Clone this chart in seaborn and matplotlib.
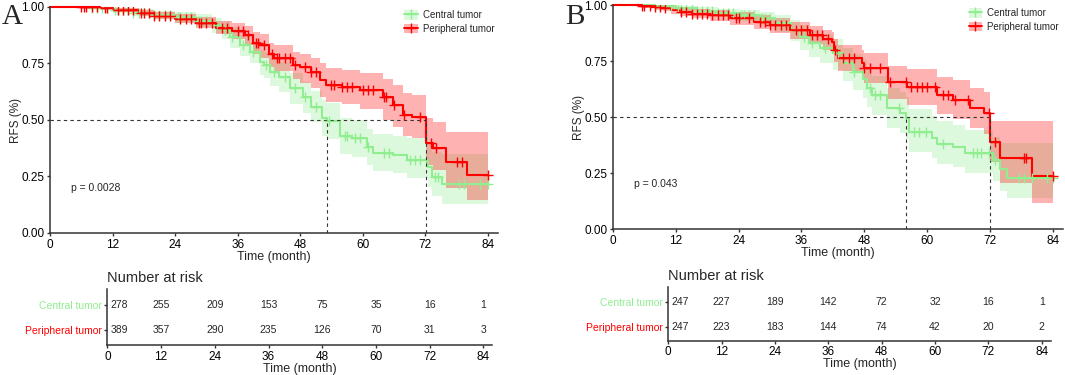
import numpy as np
import pandas as pd
import matplotlib
matplotlib.use("Agg")
import matplotlib.pyplot as plt
from matplotlib.patches import Patch
from matplotlib.lines import Line2D
import seaborn as sns

# ---------------- data ----------------
groups = ["Central tumor", "Peripheral tumor"]
colors = ["#90EE90", "#FF0000"]
risk_times = [0, 12, 24, 36, 48, 60, 72, 84]

# Panel A
a_central_t = [0, 8, 12, 16, 20, 24, 28, 31, 33, 34.5, 36.4, 38.4, 40.3, 41, 42.2, 44, 46, 48.6, 50,
               52.2, 53.1, 55.6, 58, 60.8, 62, 65.8, 68.5, 72.6, 73.3, 75.2, 84]
a_central_s = [1.0, 0.995, 0.985, 0.975, 0.965, 0.955, 0.94, 0.92, 0.9, 0.867, 0.832, 0.8, 0.757, 0.743, 0.712,
               0.69, 0.64, 0.6, 0.557, 0.51, 0.496, 0.43, 0.42, 0.38, 0.355, 0.345, 0.323, 0.292, 0.248, 0.217, 0.217]
a_central_lo = [1.0, 0.99, 0.972, 0.958, 0.945, 0.93, 0.91, 0.885, 0.86, 0.82, 0.785, 0.75, 0.7, 0.685, 0.65,
                0.625, 0.57, 0.53, 0.49, 0.43, 0.415, 0.35, 0.335, 0.3, 0.275, 0.265, 0.245, 0.205, 0.165, 0.13, 0.13]
a_central_hi = [1.0, 1.0, 0.997, 0.99, 0.983, 0.977, 0.968, 0.952, 0.94, 0.91, 0.875, 0.845, 0.81, 0.8, 0.775,
                0.755, 0.71, 0.67, 0.63, 0.59, 0.575, 0.51, 0.5, 0.46, 0.44, 0.43, 0.42, 0.39, 0.36, 0.35, 0.35]
a_central_cens = [8, 9, 10, 11, 12.5, 13, 14, 15, 16, 17, 18, 19, 20, 21, 22, 23, 24.5, 25, 26, 27, 28.5, 29,
                  30, 32, 33.5, 35, 37, 39, 41.5, 43, 45, 47, 49, 51, 53.5, 56.5, 57, 58.5, 59.5, 61, 64, 65,
                  69, 70, 71, 73.8, 74.5, 78.5, 79.5, 82.5, 84]

a_periph_t = [0, 9.6, 12, 17, 20, 24, 28, 31.8, 35, 37.4, 39, 40.3, 42, 43, 46.6, 48, 50, 51.8, 53, 56,
              59.5, 63.8, 65.8, 67.7, 69.5, 72.1, 73.5, 76, 80, 84]
a_periph_s = [1.0, 0.995, 0.987, 0.975, 0.96, 0.947, 0.93, 0.908, 0.895, 0.876, 0.84, 0.83, 0.79, 0.775, 0.743,
              0.735, 0.712, 0.677, 0.655, 0.645, 0.633, 0.6, 0.566, 0.522, 0.513, 0.398, 0.376, 0.314, 0.257, 0.257]
a_periph_lo = [1.0, 0.99, 0.978, 0.962, 0.945, 0.93, 0.905, 0.88, 0.86, 0.83, 0.79, 0.775, 0.735, 0.715, 0.68,
               0.665, 0.64, 0.6, 0.58, 0.57, 0.55, 0.5, 0.47, 0.43, 0.42, 0.3, 0.28, 0.2, 0.146, 0.146]
a_periph_hi = [1.0, 1.0, 0.996, 0.988, 0.978, 0.968, 0.955, 0.94, 0.93, 0.915, 0.89, 0.88, 0.84, 0.83, 0.8,
               0.79, 0.775, 0.75, 0.73, 0.72, 0.71, 0.68, 0.655, 0.62, 0.61, 0.51, 0.49, 0.447, 0.447, 0.447]
a_periph_cens = [6, 6.5, 7, 8, 9, 10.5, 11, 13, 14, 15, 16, 17.5, 18, 19, 20, 21, 22, 23, 25, 26, 27, 28.5,
                 29, 30, 31, 33, 34, 36, 37, 38, 39.5, 40, 41, 42.5, 43.5, 44, 45, 46, 47, 49, 50, 51, 54,
                 54.5, 56, 57, 58, 60, 61, 62, 64, 64.5, 66, 68, 71, 73, 74, 78, 79, 84]

# Panel B
b_central_t = [0, 8, 12, 16, 20, 24, 28, 31, 34, 35.7, 37.5, 39.5, 42, 44, 45.8, 47.8, 48.6, 49.5, 52.3,
               54.8, 56, 56.6, 60.9, 61.9, 65, 67.3, 72.6, 74, 75.2, 84]
b_central_s = [1.0, 0.995, 0.985, 0.975, 0.965, 0.955, 0.94, 0.92, 0.89, 0.857, 0.83, 0.808, 0.786, 0.74, 0.7,
               0.67, 0.63, 0.598, 0.54, 0.518, 0.495, 0.433, 0.406, 0.38, 0.366, 0.34, 0.308, 0.27, 0.228, 0.228]
b_central_lo = [1.0, 0.99, 0.972, 0.958, 0.945, 0.93, 0.91, 0.88, 0.84, 0.8, 0.77, 0.74, 0.71, 0.66, 0.62,
                0.585, 0.545, 0.51, 0.45, 0.43, 0.4, 0.345, 0.315, 0.29, 0.275, 0.25, 0.215, 0.17, 0.138, 0.138]
b_central_hi = [1.0, 1.0, 0.997, 0.99, 0.983, 0.977, 0.968, 0.955, 0.935, 0.91, 0.89, 0.87, 0.85, 0.81, 0.78,
                0.755, 0.715, 0.685, 0.63, 0.61, 0.59, 0.535, 0.505, 0.48, 0.465, 0.44, 0.41, 0.384, 0.384, 0.384]
b_central_cens = [8, 9, 10, 11, 12.5, 13, 14, 15, 16, 17, 18, 19, 20, 21, 22, 23, 24.5, 25, 26, 27, 28.5, 29,
                  30, 32, 33, 35, 36.5, 38, 40.5, 43, 46, 49, 50, 51, 54.7, 57.5, 58.5, 59.7, 63, 68.7,
                  69.5, 70.3, 71.9, 73, 77.5, 78.5, 80, 83, 84]

b_periph_t = [0, 5.5, 8, 9.6, 11, 12.8, 15, 18.5, 22.4, 27, 30, 33.8, 37.6, 40.2, 41.8, 42.2, 43, 47.5, 48,
              52.6, 56.1, 61.9, 65, 68.2, 70.9, 72, 74, 80, 84]
b_periph_s = [1.0, 0.995, 0.99, 0.987, 0.978, 0.97, 0.962, 0.955, 0.94, 0.925, 0.91, 0.888, 0.866, 0.85, 0.835,
              0.8, 0.763, 0.74, 0.718, 0.656, 0.634, 0.598, 0.576, 0.54, 0.518, 0.39, 0.317, 0.237, 0.237]
b_periph_lo = [1.0, 0.988, 0.98, 0.975, 0.962, 0.952, 0.94, 0.93, 0.912, 0.893, 0.875, 0.85, 0.825, 0.8, 0.78,
               0.745, 0.705, 0.675, 0.65, 0.58, 0.555, 0.515, 0.49, 0.45, 0.425, 0.3, 0.205, 0.117, 0.117]
b_periph_hi = [1.0, 1.0, 1.0, 0.998, 0.993, 0.988, 0.983, 0.978, 0.967, 0.955, 0.943, 0.925, 0.905, 0.89, 0.88,
               0.85, 0.82, 0.8, 0.785, 0.73, 0.715, 0.68, 0.665, 0.63, 0.61, 0.482, 0.482, 0.482, 0.482]
b_periph_cens = [5.5, 6, 7, 8, 9, 10, 13, 14, 15, 16, 17, 18, 19, 20, 21, 22, 23.5, 24, 26, 28, 29, 30, 31,
                 32, 33, 35, 36, 37, 38, 39, 40, 41, 42.5, 44, 45, 46, 48, 49, 51, 53, 56, 57, 58, 59,
                 60, 61.5, 63, 64, 65.3, 67.8, 71.8, 73, 78.5, 78.8, 84]

risk_a_central = [278, 255, 209, 153, 75, 35, 16, 1]
risk_a_periph = [389, 357, 290, 235, 126, 70, 31, 3]
risk_b_central = [247, 227, 189, 142, 72, 32, 16, 1]
risk_b_periph = [247, 223, 183, 144, 74, 42, 20, 2]

p_values = ["p = 0.0028", "p = 0.043"]
panel_labels = ["A", "B"]

# ---------------- style ----------------
sns.set_theme(style="ticks")
plt.rcParams["font.family"] = ["Liberation Sans", "DejaVu Sans"]
plt.rcParams["axes.edgecolor"] = "#333333"
plt.rcParams["axes.linewidth"] = 1.1
plt.rcParams["xtick.color"] = "#333333"
plt.rcParams["ytick.color"] = "#333333"
plt.rcParams["xtick.labelcolor"] = "black"
plt.rcParams["ytick.labelcolor"] = "black"

fig = plt.figure(figsize=(10.65, 3.75), dpi=100)

panels = [
    dict(curves=[(a_central_t, a_central_s, a_central_lo, a_central_hi, a_central_cens),
                 (a_periph_t, a_periph_s, a_periph_lo, a_periph_hi, a_periph_cens)],
         risk=[risk_a_central, risk_a_periph],
         main_rect=[0.0469, 0.3787, 0.421, 0.6027],
         tab_rect=[0.1008, 0.08, 0.3615, 0.1493]),
    dict(curves=[(b_central_t, b_central_s, b_central_lo, b_central_hi, b_central_cens),
                 (b_periph_t, b_periph_s, b_periph_lo, b_periph_hi, b_periph_cens)],
         risk=[risk_b_central, risk_b_periph],
         main_rect=[0.5756, 0.3893, 0.4227, 0.5973],
         tab_rect=[0.6275, 0.0915, 0.359, 0.144]),
]

XMAX = 86

for k, pan in enumerate(panels):
    ax = fig.add_axes(pan["main_rect"])
    medians = []
    for (t, s, lo, hi, cens), c, g in zip(pan["curves"], colors, groups):
        t = np.array(t); s = np.array(s)
        ax.fill_between(t, lo, hi, step="post", color=c, alpha=0.3, lw=0)
        sns.lineplot(x=t, y=s, ax=ax, color=c, lw=1.5, drawstyle="steps-post",
                     estimator=None, sort=False, clip_on=False)
        cy = s[np.searchsorted(t, cens, side="right") - 1]
        sns.scatterplot(x=cens, y=cy, ax=ax, marker="+", color=c, s=45, linewidth=1.0, zorder=3)
        medians.append(t[np.argmax(s <= 0.5)])
    ax.plot([0, max(medians)], [0.5, 0.5], ls=(0, (3, 3)), color="#333333", lw=0.8)
    for m in medians:
        ax.plot([m, m], [0, 0.5], ls=(0, (3, 3)), color="#333333", lw=0.8)

    ax.set_xlim(0, XMAX)
    ax.set_ylim(0, 1)
    ax.set_xticks(risk_times)
    ax.set_yticks([0, 0.25, 0.5, 0.75, 1.0])
    ax.set_yticklabels(["0.00", "0.25", "0.50", "0.75", "1.00"])
    ax.tick_params(labelsize=8.5, length=2.5, width=1, pad=1.5)
    ax.set_xlabel("Time (month)", fontsize=9, labelpad=0)
    ax.set_ylabel("RFS (%)", fontsize=8.5, labelpad=-0.5)
    ax.text(4, 0.2, p_values[k], fontsize=7.5, va="center", ha="left")
    sns.despine(ax=ax)

    handles = [(Patch(facecolor=c, alpha=0.3, lw=0), Line2D([], [], color=c, marker="+", lw=1.4, ms=7))
               for c in colors]
    ax.legend(handles, groups, loc="upper left", bbox_to_anchor=(0.79, 0.985), frameon=False,
              fontsize=7, handlelength=1.4, handleheight=1.1, handletextpad=0.5, labelspacing=0.35,
              borderpad=0, borderaxespad=0)

    fig.text(pan["main_rect"][0] - 0.045, 0.955, panel_labels[k],
             fontsize=21, family="Liberation Serif", ha="left", va="center")

    # risk table
    tx = fig.add_axes(pan["tab_rect"])
    for row, (vals, c) in enumerate(zip(pan["risk"], colors)):
        yv = 2 - row
        for j, (tt, v) in enumerate(zip(risk_times, vals)):
            if j == 0:
                tx.text(0.8, yv, str(v), fontsize=7.5, ha="left", va="center")
            else:
                tx.text(tt, yv, str(v), fontsize=7.5, ha="center", va="center")
    tx.set_xlim(0, XMAX)
    tx.set_ylim(0.44, 2.6)
    tx.set_xticks(risk_times)
    tx.set_yticks([2, 1])
    tx.set_yticklabels(groups)
    for lab, c in zip(tx.get_yticklabels(), colors):
        lab.set_color(c)
    tx.tick_params(labelsize=8.5, length=2.5, width=1, pad=1.5)
    tx.tick_params(axis="y", labelsize=7.5)
    tx.set_xlabel("Time (month)", fontsize=9, labelpad=0)
    tx.set_title("Number at risk", loc="left", fontsize=10.5, pad=5)
    sns.despine(ax=tx)

fig.savefig("out.png", dpi=100)
